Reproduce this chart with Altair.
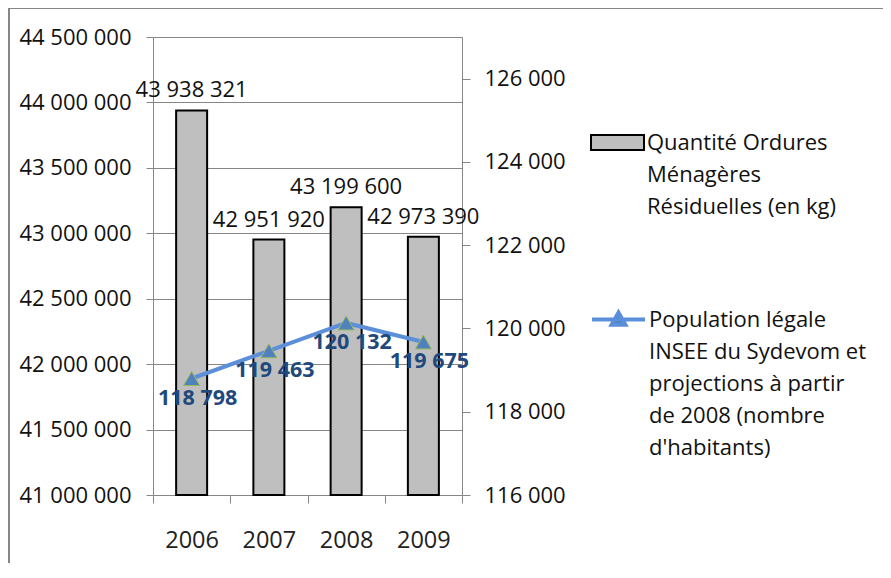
import altair as alt
import pandas as pd

years = ["2006", "2007", "2008", "2009"]
ordures = [43938321, 42951920, 43199600, 42973390]
population = [118798, 119463, 120132, 119675]
left_ticks = [41000000, 41500000, 42000000, 42500000, 43000000, 43500000, 44000000, 44500000]
right_ticks = [116000, 118000, 120000, 122000, 124000, 126000]
serie_bar = "Quantité Ordures|Ménagères|Résiduelles (en kg)"
serie_line = "Population légale|INSEE du Sydevom et|projections à partir|de 2008 (nombre|d'habitants)"

df = pd.DataFrame({
    "annee": years,
    "ordures": ordures,
    "population": population,
    "s_bar": [serie_bar] * 4,
    "s_line": [serie_line] * 4,
})

FONT = "Open Sans"
GRAY = "#868686"
FS = 22

x_enc = alt.X(
    "annee:N", title=None,
    scale=alt.Scale(paddingInner=0, paddingOuter=0),
    axis=alt.Axis(labelAngle=0, tickBand="extent", labelFontSize=23.5, labelPadding=25,
                  tickSize=8, domainColor=GRAY, tickColor=GRAY, labelColor="#222222",
                  labelFont=FONT),
)

y_left = alt.Y(
    "ordures:Q", title=None,
    scale=alt.Scale(domain=[41000000, 44500000], nice=False, zero=False),
    axis=alt.Axis(values=left_ticks, format=",d", grid=True, gridColor=GRAY, gridWidth=1,
                  domainColor=GRAY, tickColor=GRAY, tickSize=7, labelPadding=15,
                  labelFontSize=FS, labelColor="#111111", labelFont=FONT),
)

y_right = alt.Y(
    "population:Q", title=None,
    scale=alt.Scale(domain=[116000, 127000], nice=False, zero=False),
    axis=alt.Axis(orient="right", values=right_ticks, format=",d", grid=False,
                  domainColor=GRAY, tickColor=GRAY, tickSize=8, labelPadding=14,
                  labelFontSize=FS, labelColor="#111111", labelFont=FONT),
)

base = alt.Chart(df)

frame = alt.Chart(alt.Data(values=[{}])).mark_rect(
    fillOpacity=0, stroke=GRAY, strokeWidth=2
).encode(
    x=alt.value(-144), x2=alt.value(800), y=alt.value(-29), y2=alt.value(620)
)

bars = base.mark_bar(size=31, stroke="black", strokeWidth=2).encode(
    x=x_enc,
    y=y_left,
    y2=alt.datum(left_ticks[0]),
    fill=alt.Fill(
        "s_bar:N",
        scale=alt.Scale(range=["#BFBFBF"]),
        legend=alt.Legend(
            title=None, orient="none", legendX=437, legendY=78, padding=0,
            symbolType="M-1,-0.28H1V0.28H-1Z", symbolSize=2809,
            symbolStrokeColor="black", symbolStrokeWidth=2,
            labelExpr="split(datum.label, '|')", labelFont=FONT, labelFontSize=FS,
            labelColor="#111111", labelLimit=400, labelOffset=2,
        ),
    ),
)

bar_text = base.mark_text(baseline="alphabetic", dy=-13, fontSize=FS, font=FONT, color="#111111").encode(
    x=x_enc, y=y_left, text=alt.Text("ordures:Q", format=",d")
)

line = base.mark_line(strokeWidth=4).encode(
    x=x_enc,
    y=y_right,
    stroke=alt.Stroke(
        "s_line:N",
        scale=alt.Scale(range=["#5B8FD9"]),
        legend=alt.Legend(
            title=None, orient="none", legendX=437, legendY=254, padding=0,
            symbolType="M-1,0H1M-0.26,0.2L0,-0.26L0.26,0.2Z", symbolSize=2809,
            symbolStrokeWidth=4, symbolFillColor="#4F81BD",
            labelExpr="split(datum.label, '|')", labelFont=FONT, labelFontSize=FS,
            labelColor="#111111", labelLimit=400, labelOffset=2,
        ),
    ),
)

points = base.mark_point(
    shape="triangle-up", filled=True, size=260, fill="#4F81BD", stroke="#9BBB59",
    strokeWidth=1, opacity=1
).encode(x=x_enc, y=y_right)

line_text = base.mark_text(
    dx=6, dy=20, fontSize=21.5, font=FONT, fontWeight="bold", color="#1F497D"
).encode(x=x_enc, y=y_right, text=alt.Text("population:Q", format=",d"))

left = alt.layer(frame, bars, bar_text)
right = alt.layer(line, points, line_text)

chart = alt.layer(left, right).resolve_scale(
    y="independent", fill="independent", stroke="independent"
).properties(
    width=309, height=458,
    autosize=alt.AutoSizeParams(type="none"),
    padding={"left": 145, "top": 29, "right": 421, "bottom": 68},
).configure(
    font=FONT,
    locale={"number": {"decimal": ",", "thousands": " ", "grouping": [3], "currency": ["", " €"]}},
    style={"guide-label": {"lineHeight": 32}},
).configure_view(strokeWidth=0)

chart.save("out.html", embed_options={"renderer": "svg", "actions": False})
